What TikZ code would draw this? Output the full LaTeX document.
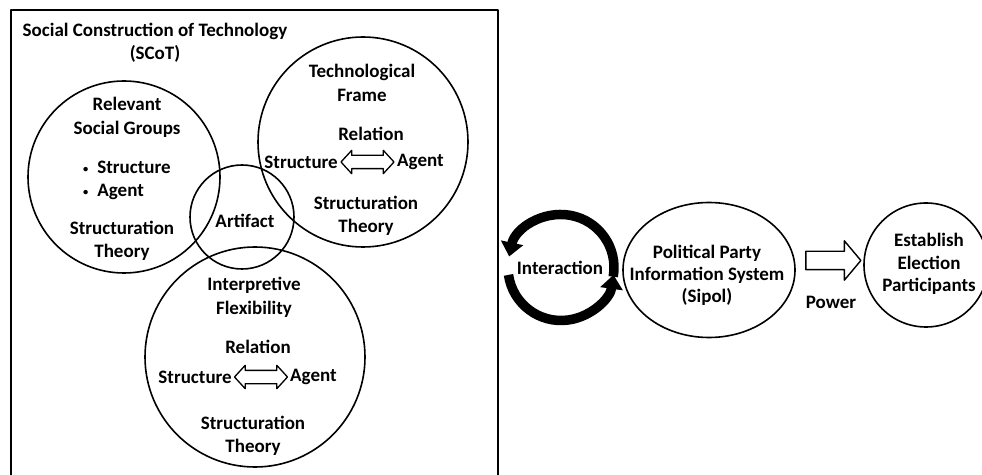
\documentclass[tikz,border=0pt]{standalone}
\usepackage{fontspec}
\setmainfont{Carlito}
\usetikzlibrary{arrows.meta,shapes.geometric,shapes.arrows,calc}
\newcommand{\lbf}{\fontsize{19}{23.5}\selectfont\bfseries}
\newcommand{\dotb}{\raisebox{1pt}{\scalebox{0.55}{\textbullet}}\hspace{9pt}}
\tikzset{
  ring/.style={draw, circle, line width=1.6pt, inner sep=0pt},
  lbl/.style={font=\lbf, align=center, inner sep=0pt},
  rel/.style={draw, double arrow, line width=1.3pt, inner xsep=0pt, inner ysep=6pt,
    minimum height=53, double arrow head extend=5pt, double arrow tip angle=95},
  cyc/.style={line width=9.5pt, -{Triangle[width=22pt,length=14pt]}},
}
\begin{document}
\begin{tikzpicture}[x=1pt, y=1pt, line join=round]
\useasboundingbox (0,0) rectangle (982,474);
\clip (0,0) rectangle (982,474);
\draw[line width=1.6pt] (11,-20) rectangle (498,464);
% SCoT frame
\node[lbl] (scot) at (155,431) {Social Construction of Technology\\(SCoT)};
\node[ring, minimum size=192] (rsg) at (124,297) {};
\node[ring, minimum size=210] (tf) at (363,332) {};
\node[ring, minimum size=104] (art) at (242,257) {};
\node[ring, minimum size=220] (ifx) at (255,117) {};
% relevant social groups
\node[lbl] (rsgT) at (127,356.5) {Relevant\\Social Groups};
\node[lbl, align=left, anchor=west] (rsgL) at (83,293.5) {\dotb Structure\\\dotb Agent};
\node[lbl] (rsgS) at (122,233) {Structuration\\Theory};
% technological frame
\node[lbl] (tfT) at (362,391) {Technological\\Frame};
\node[lbl] (tfR) at (371,340) {Relation};
\node[lbl, anchor=east] (tfS) at (338,312) {Structure};
\node[lbl, anchor=west] (tfA) at (397,312) {Agent};
\node[rel] (tfD) at ($(tfS.east)!.5!(tfA.west)$) {};
\node[lbl] (tfST) at (366,258) {Structuration\\Theory};
% artifact
\node[lbl] (artT) at (245,253) {Artifact};
% interpretive flexibility
\node[lbl] (ifxT) at (254,176.5) {Interpretive\\Flexibility};
\node[lbl] (ifxR) at (258,127) {Relation};
\node[lbl, anchor=east] (ifxS) at (232,97) {Structure};
\node[lbl, anchor=west] (ifxA) at (290,97) {Agent};
\node[rel] (ifxD) at ($(ifxS.east)!.5!(ifxA.west)$) {};
\node[lbl] (ifxST) at (253,38) {Structuration\\Theory};
% right part
\node[lbl] (inter) at (560,206) {Interaction};
\draw[cyc] ([shift={(-10:53)}]561,206.5) arc (-10:168:53);
\draw[cyc] ([shift={(188:53)}]561,206.5) arc (188:352:53);
\node[draw, ellipse, line width=1.6pt, minimum width=172, minimum height=135, inner sep=0pt] (sipol) at (709,204) {};
\node[lbl, font=\fontsize{19}{22}\selectfont\bfseries] (sipolT) at (707,199) {Political Party\\Information System\\(Sipol)};
\node[ring, minimum size=124] (est) at (926,209) {};
\node[lbl, font=\fontsize{19}{22.5}\selectfont\bfseries] (estT) at (929,210) {Establish\\Election\\Participants};
\node[draw, single arrow, line width=1.4pt, inner xsep=0pt, inner ysep=8.5pt, minimum height=55,
  single arrow head extend=10.5pt, single arrow tip angle=100] (pw) at ($(sipol.east)!.5!(est.west)+(0,7)$) {};
\node[lbl] (pwT) at (831,172) {Power};
\end{tikzpicture}
\end{document}
